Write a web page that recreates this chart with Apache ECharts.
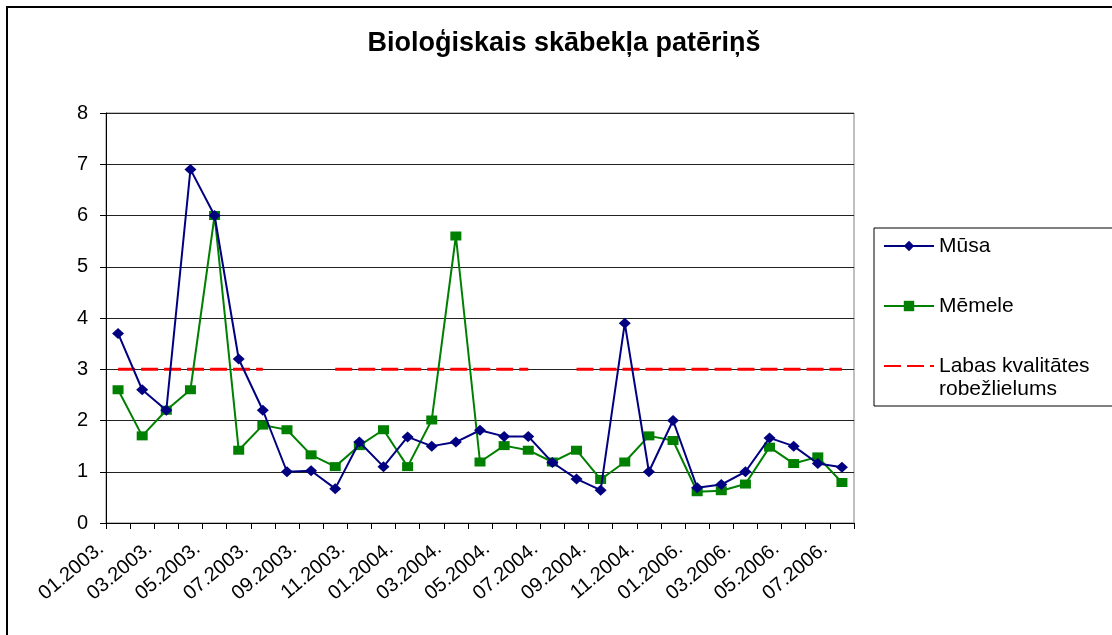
<!DOCTYPE html>
<html>
<head>
<meta charset="utf-8">
<script src="https://cdn.jsdelivr.net/npm/echarts@6/dist/echarts.min.js"></script>
<style>
  html, body { margin: 0; padding: 0; background: #fff; }
  #main { width: 1112px; height: 635px; }
</style>
</head>
<body>
<div id="main"></div>
<script>
// mēneši (2005. gada nav)
var categories = [
  '01.2003.', '02.2003.', '03.2003.', '04.2003.', '05.2003.', '06.2003.',
  '07.2003.', '08.2003.', '09.2003.', '10.2003.', '11.2003.', '12.2003.',
  '01.2004.', '02.2004.', '03.2004.', '04.2004.', '05.2004.', '06.2004.',
  '07.2004.', '08.2004.', '09.2004.', '10.2004.', '11.2004.', '12.2004.',
  '01.2006.', '02.2006.', '03.2006.', '04.2006.', '05.2006.', '06.2006.',
  '07.2006.'
];
var musa = [3.7, 2.6, 2.2, 6.9, 6.0, 3.2, 2.2, 1.0, 1.02, 0.67, 1.58, 1.1,
  1.68, 1.5, 1.58, 1.81, 1.69, 1.69, 1.18, 0.86, 0.64, 3.9, 1.0, 2.0,
  0.69, 0.75, 1.0, 1.66, 1.5, 1.16, 1.09];
var memele = [2.6, 1.7, 2.2, 2.6, 6.0, 1.42, 1.91, 1.82, 1.33, 1.1, 1.51, 1.82,
  1.1, 2.01, 5.6, 1.19, 1.51, 1.42, 1.19, 1.42, 0.85, 1.19, 1.7, 1.61,
  0.61, 0.63, 0.76, 1.48, 1.16, 1.29, 0.79];
// robežlielums - dažiem mēnešiem nav vērtības
var limit = [3, 3, 3, 3, 3, 3, 3, null, null, 3, 3, 3,
  3, 3, 3, 3, 3, 3, null, 3, 3, 3, 3, 3,
  3, 3, 3, 3, 3, 3, 3];

var font = 'Liberation Sans, Arial, sans-serif';
var chart = echarts.init(document.getElementById('main'));

chart.setOption({
  backgroundColor: '#fff',
  animation: false,
  textStyle: { fontFamily: font, color: '#000' },
  title: {
    text: 'Bioloģiskais skābekļa patēriņš',
    left: 559,
    top: 25,
    textAlign: 'center',
    textStyle: { fontFamily: font, fontSize: 27, fontWeight: 'bold', color: '#000' }
  },
  legend: {
    orient: 'vertical',
    left: 874,
    top: 228,
    padding: [7, 40, 29, 9],
    itemGap: 38,
    itemWidth: 50,
    itemHeight: 13,
    borderColor: '#000',
    borderWidth: 1,
    backgroundColor: '#fff',
    textStyle: { fontFamily: font, fontSize: 21, color: '#000', lineHeight: 22 },
    data: [
      'Mūsa',
      'Mēmele',
      { name: 'Labas kvalitātes', itemStyle: { color: 'rgba(0,0,0,0)', opacity: 0 } }
    ]
  },
  graphic: [
    {
      type: 'rect',
      z: 100,
      shape: { x: 7, y: 7, width: 1200, height: 700 },
      style: { fill: 'none', stroke: '#000', lineWidth: 2 }
    },
    {
      type: 'text',
      z: 100,
      left: 939,
      top: 379,
      style: { text: 'robežlielums', font: '21px ' + font, fill: '#000' }
    }
  ],
  grid: {
    left: 106,
    right: 258,
    top: 113,
    bottom: 112,
    show: true,
    borderColor: '#808080',
    borderWidth: 1
  },
  xAxis: {
    type: 'category',
    data: categories,
    boundaryGap: true,
    axisLine: { lineStyle: { color: '#000', width: 1 } },
    axisTick: { show: true, interval: 0, length: 6, lineStyle: { color: '#000' } },
    axisLabel: {
      interval: 1,
      rotate: 40,
      margin: 9,
      padding: [0, 22, 0, 0],
      fontSize: 20,
      fontFamily: font,
      color: '#000'
    },
    splitLine: { show: false }
  },
  yAxis: {
    type: 'value',
    min: 0,
    max: 8,
    interval: 1,
    axisLine: { show: true, lineStyle: { color: '#000', width: 1 } },
    axisTick: { show: true, length: 6, lineStyle: { color: '#000' } },
    axisLabel: { margin: 18, fontSize: 20, fontFamily: font, color: '#000' },
    splitLine: { lineStyle: { color: '#222', width: 1 } }
  },
  series: [
    {
      name: 'Mūsa',
      type: 'line',
      data: musa,
      symbol: 'diamond',
      symbolSize: [12, 11],
      showAllSymbol: true,
      itemStyle: { color: '#000080' },
      lineStyle: { color: '#000080', width: 2 },
      z: 4
    },
    {
      name: 'Mēmele',
      type: 'line',
      data: memele,
      symbol: 'rect',
      symbolSize: [11, 9],
      showAllSymbol: true,
      itemStyle: { color: '#008000' },
      lineStyle: { color: '#008000', width: 2 },
      z: 3
    },
    {
      name: 'Labas kvalitātes',
      type: 'line',
      data: limit,
      symbol: 'none',
      connectNulls: false,
      itemStyle: { color: '#ff0000' },
      lineStyle: { color: '#ff0000', width: 3, type: [17, 6] },
      z: 2
    }
  ]
});
</script>
</body>
</html>
